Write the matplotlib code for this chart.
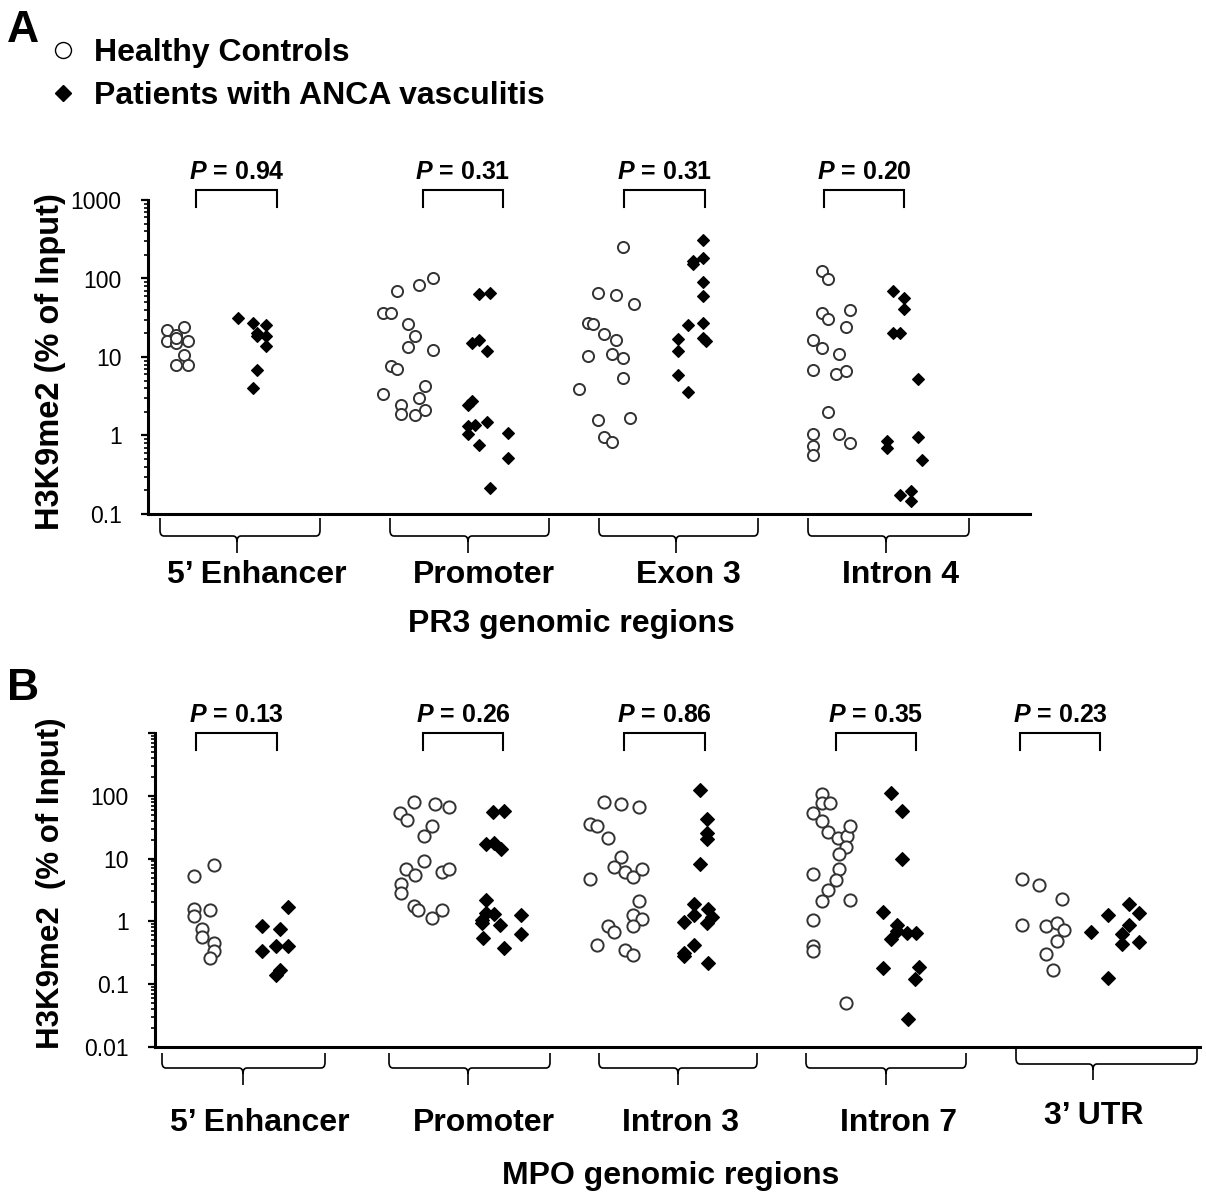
import matplotlib
matplotlib.use('Agg')
import matplotlib.pyplot as plt
import matplotlib.transforms as mtransforms
from matplotlib.path import Path
from matplotlib.patches import PathPatch
from matplotlib.ticker import LogLocator, NullFormatter, FixedLocator, FixedFormatter

plt.rcParams['font.family'] = ['Liberation Sans', 'DejaVu Sans']
plt.rcParams['mathtext.fontset'] = 'custom'
plt.rcParams['mathtext.it'] = 'Liberation Sans:italic:bold'
plt.rcParams['mathtext.rm'] = 'Liberation Sans:bold'

# ---- data (x = horizontal scatter position, y = % of input) ----
# panel A: PR3
a_regions = ["5\u2019 Enhancer", "Promoter", "Exon 3", "Intron 4"]
a_pvals = ["0.94", "0.31", "0.31", "0.20"]

a_enh_hc_x = [167, 167, 176, 176, 184, 188, 184, 176, 188, 176]
a_enh_hc_y = [22, 16, 19, 15, 24, 16, 10.5, 7.8, 8, 17.5]
a_enh_pt_x = [238, 253, 257, 257, 266, 266, 266, 257, 253]
a_enh_pt_y = [31.8, 27, 20.4, 18.6, 25.6, 18.6, 13.8, 6.75, 4.0]

a_pro_hc_x = [383, 391, 397, 419, 433, 408, 415, 408, 433, 391, 397, 383, 425, 419, 401, 401, 415, 425]
a_pro_hc_y = [36.8, 36.8, 68.9, 83.8, 101, 26.1, 18.5, 13.4, 12.2, 7.7, 7.0, 3.4, 4.26, 3.0, 2.44, 1.89, 1.80, 2.09]
a_pro_pt_x = [479, 490, 472, 479, 487, 468, 472, 468, 475, 468, 487, 479, 508, 508, 490]
a_pro_pt_y = [64.4, 66.2, 15.2, 16.3, 11.9, 2.44, 2.74, 1.32, 1.38, 1.03, 1.49, 0.75, 1.08, 0.51, 0.215]

a_ex3_hc_x = [623, 598, 616, 634, 588, 593, 604, 616, 588, 612, 623, 623, 579, 598, 630, 604, 612]
a_ex3_hc_y = [249, 66, 61, 48, 27.4, 26.6, 19.9, 16.3, 10.3, 11, 9.8, 5.45, 3.94, 1.57, 1.66, 0.96, 0.82]
a_ex3_pt_x = [703, 703, 693, 693, 703, 703, 688, 703, 678, 703, 706, 678, 678, 688]
a_ex3_pt_y = [312, 185, 168, 152, 89, 59, 25.6, 26.9, 17.1, 17.6, 16, 11.9, 5.83, 3.61]

a_in4_hc_x = [822, 828, 822, 828, 850, 846, 813, 822, 839, 813, 836, 846, 828, 813, 839, 850, 813, 813]
a_in4_hc_y = [123, 98, 36.8, 30.9, 39.4, 24.2, 16.5, 13.2, 11, 6.8, 6.1, 6.6, 1.99, 1.05, 1.06, 0.81, 0.73, 0.57]
a_in4_pt_x = [893, 904, 904, 893, 900, 918, 887, 887, 918, 922, 900, 911, 911]
a_in4_pt_y = [69.6, 56.1, 41.4, 20, 20.5, 5.19, 0.86, 0.70, 0.95, 0.49, 0.177, 0.195, 0.145]

# panel B: MPO
b_regions = ["5\u2019 Enhancer", "Promoter", "Intron 3", "Intron 7", "3\u2019 UTR"]
b_pvals = ["0.13", "0.26", "0.86", "0.35", "0.23"]

b_enh_hc_x = [194, 214, 194, 194, 210, 202, 202, 214, 214, 210]
b_enh_hc_y = [5.2, 7.8, 1.57, 1.23, 1.5, 0.75, 0.56, 0.45, 0.34, 0.26]
b_enh_pt_x = [262, 280, 288, 262, 276, 288, 280, 276]
b_enh_pt_y = [0.85, 0.75, 1.69, 0.34, 0.41, 0.40, 0.17, 0.14]

b_pro_hc_x = [414, 435, 449, 400, 407, 432, 424, 424, 406, 415, 442, 449, 401, 401, 414, 418, 432, 442]
b_pro_hc_y = [80, 73, 67, 53.5, 41.9, 32.8, 22.7, 9.3, 6.8, 5.4, 6.05, 6.9, 4.0, 2.83, 1.78, 1.5, 1.13, 1.54]
b_pro_pt_x = [493, 504, 486, 494, 501, 486, 486, 482, 482, 494, 500, 521, 483, 521, 504]
b_pro_pt_y = [54.8, 56.9, 17.1, 17.8, 14.3, 2.22, 1.36, 1.06, 0.94, 1.31, 0.88, 1.25, 0.54, 0.64, 0.375]

b_in3_hc_x = [604, 621, 639, 590, 597, 608, 621, 614, 625, 633, 642, 590, 639, 633, 642, 633, 608, 614, 597, 625, 633]
b_in3_hc_y = [79, 73, 67, 36, 33.6, 21.4, 10.5, 7.4, 6.05, 5.04, 6.9, 4.8, 2.08, 1.28, 1.09, 0.85, 0.86, 0.67, 0.42, 0.35, 0.29]
b_in3_pt_x = [700, 707, 707, 707, 700, 694, 708, 712, 694, 684, 707, 694, 684, 684, 708]
b_in3_pt_y = [122, 42, 25.7, 20.6, 8.2, 1.89, 1.57, 1.17, 1.28, 0.98, 0.96, 0.42, 0.31, 0.28, 0.22]

b_in7_hc_x = [822, 822, 830, 813, 822, 828, 838, 847, 850, 846, 839, 839, 836, 828, 822, 850, 813, 813, 813, 813, 846]
b_in7_hc_y = [106, 78, 78, 54, 39.8, 26.6, 21.6, 22.9, 33, 15.5, 11.7, 6.9, 4.56, 3.12, 2.11, 2.19, 5.6, 1.05, 0.40, 0.34, 0.050]
b_in7_pt_x = [891, 902, 902, 883, 897, 897, 891, 907, 916, 883, 919, 915, 908]
b_in7_pt_y = [109, 57.5, 9.75, 1.43, 0.87, 0.70, 0.52, 0.66, 0.66, 0.18, 0.19, 0.123, 0.028]

b_utr_hc_x = [1022, 1039, 1062, 1022, 1046, 1057, 1064, 1057, 1046, 1053]
b_utr_hc_y = [4.68, 3.79, 2.24, 0.87, 0.84, 0.95, 0.73, 0.49, 0.30, 0.166]
b_utr_pt_x = [1091, 1108, 1129, 1139, 1129, 1122, 1122, 1139, 1108]
b_utr_pt_y = [0.68, 1.25, 1.92, 1.34, 0.87, 0.62, 0.44, 0.47, 0.126]

a_groups = [
    (a_enh_hc_x, a_enh_hc_y, a_enh_pt_x, a_enh_pt_y),
    (a_pro_hc_x, a_pro_hc_y, a_pro_pt_x, a_pro_pt_y),
    (a_ex3_hc_x, a_ex3_hc_y, a_ex3_pt_x, a_ex3_pt_y),
    (a_in4_hc_x, a_in4_hc_y, a_in4_pt_x, a_in4_pt_y),
]
b_groups = [
    (b_enh_hc_x, b_enh_hc_y, b_enh_pt_x, b_enh_pt_y),
    (b_pro_hc_x, b_pro_hc_y, b_pro_pt_x, b_pro_pt_y),
    (b_in3_hc_x, b_in3_hc_y, b_in3_pt_x, b_in3_pt_y),
    (b_in7_hc_x, b_in7_hc_y, b_in7_pt_x, b_in7_pt_y),
    (b_utr_hc_x, b_utr_hc_y, b_utr_pt_x, b_utr_pt_y),
]

# ---- layout (pixels) ----
W, H = 1206, 1195
a_brackets = [(196, 277), (423, 503), (624, 705), (824, 904)]
b_brackets = [(196, 277), (423, 503), (624, 705), (836, 916), (1020, 1100)]
a_braces = [(160, 320, 237), (390, 549, 468), (599, 758, 676), (808, 969, 886)]
b_braces = [(162, 325, 243), (389, 550, 468), (599, 757, 678), (806, 966, 886), (1016, 1197, 1093)]
a_label_x = [257, 484, 688, 900]
b_label_x = [260, 484, 680, 898, 1094]

LABEL_FS = 23
fig = plt.figure(figsize=(W / 100, H / 100), dpi=100)


def fxy(x, y):
    return x / W, 1 - y / H


def make_axes(left, right, top, bottom, ymin, ymax, ticks, ticklabels):
    ax = fig.add_axes([left / W, 1 - bottom / H, (right - left) / W, (bottom - top) / H])
    ax.set_xlim(left, right)
    ax.set_yscale('log')
    ax.set_ylim(ymin, ymax)
    for s in ['top', 'right']:
        ax.spines[s].set_visible(False)
    for s in ['left', 'bottom']:
        ax.spines[s].set_linewidth(2.2)
    ax.set_xticks([])
    ax.yaxis.set_major_locator(FixedLocator(ticks))
    ax.yaxis.set_major_formatter(FixedFormatter(ticklabels))
    ax.yaxis.set_minor_locator(LogLocator(base=10, subs=range(2, 10), numticks=30))
    ax.yaxis.set_minor_formatter(NullFormatter())
    ax.tick_params(axis='y', which='major', length=5, width=1.6, labelsize=16.5, pad=14)
    ax.tick_params(axis='y', which='minor', length=3, width=1.2)
    return ax


def px2ax(ypx, top, bottom):
    return (bottom - ypx) / (bottom - top)


def draw_panel(ax, groups, mscale):
    for hx, hy, px, py in groups:
        ax.plot(hx, hy, 'o', ms=8.0 * mscale, mfc='white', mec='#333333', mew=1.4, ls='none', zorder=3)
        ax.plot(px, py, 'D', ms=6.4 * mscale, color='black', mew=0.8, ls='none', zorder=4)


def draw_brackets(ax, brackets, pvals, y_leg, y_top, y_text):
    tr = mtransforms.blended_transform_factory(ax.transData, ax.transAxes)
    for (x0, x1), p in zip(brackets, pvals):
        ax.plot([x0, x0, x1, x1], [y_leg, y_top, y_top, y_leg], color='black', lw=1.5,
                transform=tr, clip_on=False, solid_joinstyle='miter')
        ax.text((x0 + x1) / 2, y_text, r'$\mathit{P}$ = ' + p, transform=tr, ha='center',
                va='baseline', fontsize=18, fontweight='bold')


def draw_brace(ax, x0, x1, xc, yt, yh, yb):
    tr = mtransforms.blended_transform_factory(ax.transData, ax.transAxes)
    rx, ry = 4, 0.018
    verts = [(x0, yt), (x0, yh + ry), (x0, yh), (x0 + rx, yh), (xc - rx, yh), (xc, yh), (xc, yh - ry), (xc, yb),
             (x1, yt), (x1, yh + ry), (x1, yh), (x1 - rx, yh), (xc + rx, yh), (xc, yh), (xc, yh - ry)]
    codes = [Path.MOVETO, Path.LINETO, Path.CURVE3, Path.CURVE3, Path.LINETO, Path.CURVE3, Path.CURVE3, Path.LINETO,
             Path.MOVETO, Path.LINETO, Path.CURVE3, Path.CURVE3, Path.LINETO, Path.CURVE3, Path.CURVE3]
    patch = PathPatch(Path(verts, codes), fill=False, lw=1.2, edgecolor='black', transform=tr, clip_on=False)
    ax.add_patch(patch)


# ---- panel A ----
A_T, A_B = 200, 514
axA = make_axes(148, 1030, A_T, A_B, 0.1, 1000, [0.1, 1, 10, 100, 1000], ['0.1', '1', '10', '100', '1000'])
draw_panel(axA, a_groups, 1.0)
draw_brackets(axA, a_brackets, a_pvals, px2ax(207, A_T, A_B), px2ax(190, A_T, A_B), px2ax(179, A_T, A_B))
for x0, x1, xc in a_braces:
    draw_brace(axA, x0, x1, xc, px2ax(518, A_T, A_B), px2ax(536, A_T, A_B), px2ax(553, A_T, A_B))
trA = mtransforms.blended_transform_factory(axA.transData, axA.transAxes)
for x, lab in zip(a_label_x, a_regions):
    axA.text(x, px2ax(583, A_T, A_B), lab, transform=trA, ha='center', va='baseline',
             fontsize=LABEL_FS, fontweight='bold')
fig.text(*fxy(571, 632), 'PR3 genomic regions', ha='center', va='baseline', fontsize=LABEL_FS, fontweight='bold')
fig.text(*fxy(51, 362), 'H3K9me2 (% of Input)', rotation=90, ha='center', va='center',
         fontsize=23.5, fontweight='bold')

# ---- panel B ----
B_T, B_B = 733, 1047
axB = make_axes(155, 1200, B_T, B_B, 0.01, 1000, [0.01, 0.1, 1, 10, 100, 1000], ['0.01', '0.1', '1', '10', '100', ''])
draw_panel(axB, b_groups, 1.1)
draw_brackets(axB, b_brackets, b_pvals, px2ax(750, B_T, B_B), px2ax(733, B_T, B_B), px2ax(722, B_T, B_B))
for i, (x0, x1, xc) in enumerate(b_braces):
    if i == len(b_braces) - 1:
        draw_brace(axB, x0, x1, xc, px2ax(1047, B_T, B_B), px2ax(1064, B_T, B_B), px2ax(1080, B_T, B_B))
    else:
        draw_brace(axB, x0, x1, xc, px2ax(1053, B_T, B_B), px2ax(1068, B_T, B_B), px2ax(1085, B_T, B_B))
trB = mtransforms.blended_transform_factory(axB.transData, axB.transAxes)
for i, (x, lab) in enumerate(zip(b_label_x, b_regions)):
    ybase = 1124 if i == len(b_regions) - 1 else 1131
    axB.text(x, px2ax(ybase, B_T, B_B), lab, transform=trB, ha='center', va='baseline',
             fontsize=LABEL_FS, fontweight='bold')
fig.text(*fxy(671, 1184), 'MPO genomic regions', ha='center', va='baseline', fontsize=LABEL_FS, fontweight='bold')
fig.text(*fxy(51, 883), 'H3K9me2  (% of Input)', rotation=90, ha='center', va='center',
         fontsize=22.5, fontweight='bold')

# ---- panel letters and legend ----
fig.text(*fxy(7, 42), 'A', ha='left', va='baseline', fontsize=32, fontweight='bold')
fig.text(*fxy(7, 700), 'B', ha='left', va='baseline', fontsize=32, fontweight='bold')

leg = fig.add_axes([0, 0, 1, 1], zorder=-1)
leg.set_xlim(0, W)
leg.set_ylim(H, 0)
leg.axis('off')
leg.plot([63], [50], 'o', ms=11.5, mfc='white', mec='black', mew=1.0)
leg.plot([63], [93], 'D', ms=8.5, color='black')
leg.text(94, 61, 'Healthy Controls', ha='left', va='baseline', fontsize=LABEL_FS, fontweight='bold')
leg.text(94, 104, 'Patients with ANCA vasculitis', ha='left', va='baseline', fontsize=LABEL_FS, fontweight='bold')

fig.savefig('out.png', dpi=100)
